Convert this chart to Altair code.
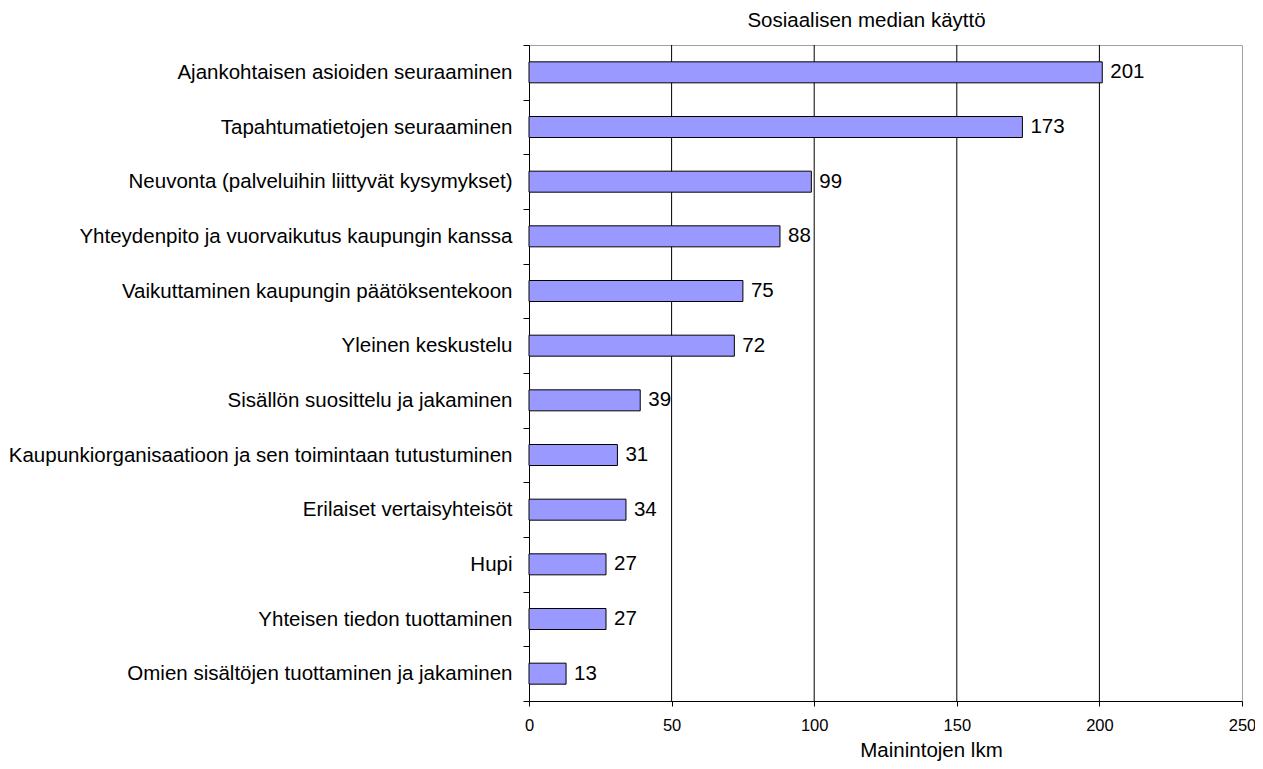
import altair as alt
import pandas as pd

categories = [
    "Ajankohtaisen asioiden seuraaminen",
    "Tapahtumatietojen seuraaminen",
    "Neuvonta (palveluihin liittyvät kysymykset)",
    "Yhteydenpito ja vuorvaikutus kaupungin kanssa",
    "Vaikuttaminen kaupungin päätöksentekoon",
    "Yleinen keskustelu",
    "Sisällön suosittelu ja jakaminen",
    "Kaupunkiorganisaatioon ja sen toimintaan tutustuminen",
    "Erilaiset vertaisyhteisöt",
    "Hupi",
    "Yhteisen tiedon tuottaminen",
    "Omien sisältöjen tuottaminen ja jakaminen",
]
values = [201, 173, 99, 88, 75, 72, 39, 31, 34, 27, 27, 13]
x_ticks = [0, 50, 100, 150, 200, 250]
grid_values = [50, 100, 150, 200]

df = pd.DataFrame({"cat": categories, "val": values})
grid_df = pd.DataFrame({"g": grid_values})

FONT = "Liberation Sans"
BIG = 20.5

xscale = alt.Scale(domain=[0, 250], nice=False, zero=True)
yscale = alt.Scale(domain=categories, paddingInner=0, paddingOuter=0)

grid = alt.Chart(grid_df).mark_rule(color="black", strokeWidth=1).encode(
    x=alt.X("g:Q", scale=xscale)
)

bars = alt.Chart(df).mark_bar(
    size=21, color="#9999FF", stroke="black", strokeWidth=1
).encode(
    x=alt.X(
        "val:Q",
        scale=xscale,
        axis=alt.Axis(
            values=x_ticks,
            grid=False,
            title="Mainintojen lkm",
            titleFont=FONT,
            titleFontSize=BIG,
            titleFontWeight="normal",
            titleColor="black",
            titleX=402,
            titleY=49,
            titleAlign="center",
            titleBaseline="middle",
            labelFont=FONT,
            labelFontSize=16.5,
            labelColor="black",
            labelPadding=11,
            tickSize=5,
            tickColor="black",
            domainColor="black",
            labelFlush=False,
        ),
    ),
    y=alt.Y(
        "cat:N",
        scale=yscale,
        sort=categories,
        axis=alt.Axis(
            title=None,
            tickBand="extent",
            tickSize=6,
            tickColor="black",
            domainColor="black",
            labelFont=FONT,
            labelFontSize=BIG,
            labelColor="black",
            labelPadding=11,
            labelLimit=0,
        ),
    ),
)

labels = alt.Chart(df).mark_text(
    align="left", baseline="middle", dx=8, font=FONT, fontSize=BIG, color="black"
).encode(
    x=alt.X("val:Q", scale=xscale),
    y=alt.Y("cat:N", scale=yscale, sort=categories),
    text=alt.Text("val:Q"),
)

chart = (
    alt.layer(grid, bars, labels)
    .properties(
        width=713,
        height=656,
        autosize=alt.AutoSizeParams(type="none"),
        padding={"left": 521, "top": 37, "right": 13, "bottom": 60},
        title=alt.TitleParams(
            "Sosiaalisen median käyttö",
            font=FONT,
            fontSize=BIG,
            fontWeight="normal",
            color="black",
            anchor="middle",
            dx=-19,
            offset=4,
        ),
    )
    .configure_view(stroke="#a0a0a0", strokeWidth=1)
)

chart.save("out.html", embed_options={"renderer": "svg", "actions": False})
